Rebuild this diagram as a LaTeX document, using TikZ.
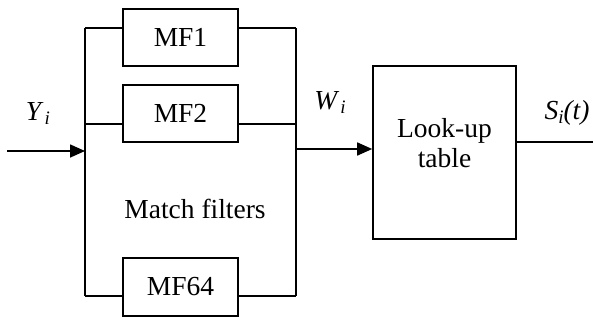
\documentclass[tikz,border=0pt]{standalone}
\usepackage{fontspec}
\setmainfont{Liberation Serif}
\usetikzlibrary{arrows.meta}
\newcommand{\subi}{\raisebox{-4bp}{\fontsize{19bp}{20bp}\selectfont\textit{i}}}
\tikzset{
  wire/.style={line width=1.6bp},
  sig/.style={wire, -{Triangle[length=15bp,width=13bp]}},
  blk/.style={draw, line width=1.6bp, rectangle, inner sep=0pt, fill=white},
  lbl/.style={inner sep=0pt},
}
\begin{document}
\begin{tikzpicture}[x=1bp, y=-1bp, font=\fontsize{27.5bp}{30bp}\selectfont]
\useasboundingbox (0,0) rectangle (593,320);

% filter bank
\node[blk, minimum width=115bp, minimum height=57bp] (mf1)  at (180.5,37.5)  {MF1};
\node[blk, minimum width=115bp, minimum height=57bp] (mf2)  at (180.5,113.5) {MF2};
\node[blk, minimum width=115bp, minimum height=58bp] (mf64) at (180.5,287)   {MF64};
\node[lbl] (mftxt) at (195,209) {Match filters};

% look-up table
\node[blk, minimum width=143bp, minimum height=173bp] (lut) at (444.5,152.5) {};
\node[lbl, align=center] (luttxt) at (444.5,143) {Look-up\\table};

% bus points
\coordinate (lt) at (85,28);
\coordinate (lb) at (85,296);
\coordinate (lm) at (85,124);
\coordinate (rt) at (296,28);
\coordinate (rb) at (296,296);
\coordinate (rm) at (296,124);
\coordinate (in) at (7,151);
\coordinate (wsrc) at (296,149);
\coordinate (sout) at (593,142);

% input and output buses
\draw[wire] (lt) -- (lb);
\draw[wire] (rt) -- (rb);

% filter branches
\draw[wire] (lt) -- (lt -| mf1.west);
\draw[wire] (mf1.east |- rt) -- (rt);
\draw[wire] (lm) -- (lm -| mf2.west);
\draw[wire] (mf2.east |- rm) -- (rm);
\draw[wire] (lb) -- (lb -| mf64.west);
\draw[wire] (mf64.east |- rb) -- (rb);

% signals
\draw[sig] (in) -- (in -| lt);
\draw[sig] (wsrc) -- (wsrc -| lut.west);
\draw[wire] (lut.east |- sout) -- (sout);

% labels
\node[lbl] (ylab) at (38,113) {\textit{Y}\kern1bp\subi};
\node[lbl] (wlab) at (330,102) {\textit{W}\kern1bp\subi};
\node[lbl] (slab) at (567,113) {\textit{S}\subi\textit{(t)}};
\end{tikzpicture}
\end{document}
